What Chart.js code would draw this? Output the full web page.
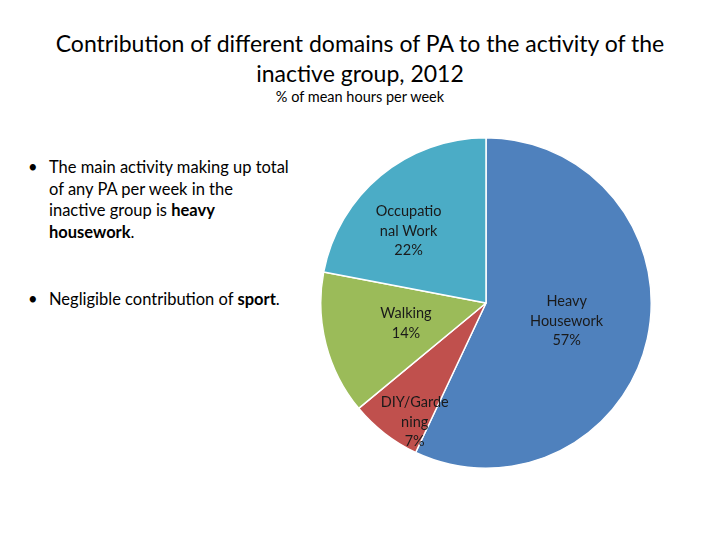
<!DOCTYPE html>
<html>
<head>
<meta charset="utf-8">
<script src="https://cdn.jsdelivr.net/npm/chart.js@4.4.0/dist/chart.umd.min.js"></script>
<style>
  body { margin: 0; width: 720px; height: 540px; background: #fff; font-family: Lato, "Open Sans", sans-serif; color: #000; position: relative; overflow: hidden; }
  #title { position: absolute; left: 0; width: 720px; top: 28px; text-align: center; font-size: 23px; line-height: 30px; }
  #subtitle { position: absolute; left: 0; width: 720px; top: 88px; text-align: center; font-size: 14.5px; }
  ul { position: absolute; left: 26px; top: 157px; width: 290px; margin: 0; padding: 0; list-style: none; font-size: 16.5px; line-height: 21.5px; }
  li { position: relative; padding-left: 23px; margin-bottom: 46px; }
  li:before { content: "\2022"; position: absolute; left: 2px; }
  #wrap { position: absolute; left: 316px; top: 133px; width: 340px; height: 340px; }
</style>
</head>
<body>
<div id="title">Contribution of different domains of PA to the activity of the<br>inactive group, 2012</div>
<div id="subtitle">% of mean hours per week</div>
<ul>
  <li>The main activity making up total<br>of any PA per week in the<br>inactive group is <b>heavy</b><br><b>housework</b>.</li>
  <li>Negligible contribution of <b>sport</b>.</li>
</ul>
<div id="wrap"><canvas id="pieChart" width="340" height="340"></canvas></div>
<script>
// slices clockwise from 12 o'clock
const categories = [['Heavy', 'Housework'], ['DIY/Garde', 'ning'], ['Walking'], ['Occupatio', 'nal Work']];
const shares = [57, 7, 14, 22];
const sliceColors = ['#4F81BD', '#C0504D', '#9BBB59', '#4BACC6'];

// draws the "name / xx%" text inside each slice
const sliceLabels = {
  id: 'sliceLabels',
  afterDatasetsDraw(chart, args, opts) {
    const ctx = chart.ctx;
    const meta = chart.getDatasetMeta(0);
    ctx.save();
    ctx.font = '14.5px Lato, "Open Sans", sans-serif';
    ctx.fillStyle = '#1a1a1a';
    ctx.textAlign = 'center';
    ctx.textBaseline = 'middle';
    meta.data.forEach((arc, i) => {
      const p = arc.getProps(['x', 'y', 'startAngle', 'endAngle', 'outerRadius'], true);
      const mid = (p.startAngle + p.endAngle) / 2 + opts.turn[i];
      const r = p.outerRadius * opts.dist[i];
      const lines = [].concat(chart.data.labels[i], shares[i] + '%');
      const cx = p.x + Math.cos(mid) * r;
      const cy = p.y + Math.sin(mid) * r;
      const lh = 19.5;
      lines.forEach((t, j) => {
        ctx.fillText(t, cx, cy + (j - (lines.length - 1) / 2) * lh);
      });
    });
    ctx.restore();
  }
};

new Chart(document.getElementById('pieChart'), {
  type: 'pie',
  data: {
    labels: categories,
    datasets: [{
      data: shares,
      backgroundColor: sliceColors,
      borderColor: '#fff',
      borderWidth: 1.5
    }]
  },
  options: {
    responsive: false,
    animation: false,
    layout: { padding: 4 },
    plugins: {
      legend: { display: false },
      tooltip: { enabled: false },
      // label distance (fraction of radius) and small angular nudge per slice
      sliceLabels: { dist: [0.5, 0.84, 0.5, 0.64], turn: [0, -0.12, 0, -0.13] }
    }
  },
  plugins: [sliceLabels]
});
</script>
</body>
</html>
